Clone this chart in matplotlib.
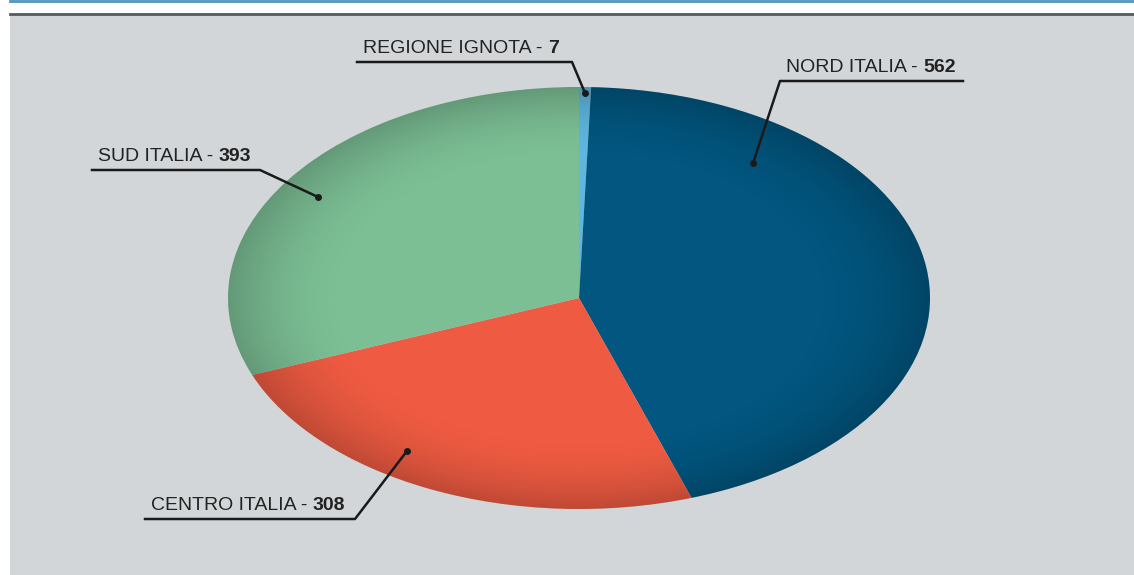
import matplotlib.pyplot as plt
from matplotlib.patches import Circle, Rectangle
import numpy as np

# data (clockwise from the top)
regions = ["REGIONE IGNOTA", "NORD ITALIA", "CENTRO ITALIA", "SUD ITALIA"]
counts = [7, 562, 308, 393]
colors = ["#5fb6df", "#02567f", "#ef5b42", "#7cbf95"]

W, H = 1134, 575
fig = plt.figure(figsize=(W / 100, H / 100), dpi=100)
fig.patch.set_facecolor("white")

# background panel, pixel coordinates
bg = fig.add_axes([0, 0, 1, 1], zorder=0)
bg.set_xlim(0, W)
bg.set_ylim(H, 0)
bg.axis("off")
bg.add_patch(Rectangle((10, 14), W - 10, H - 14, color="#d3d6d8", lw=0))
bg.plot([10, W], [14, 14], color="#5a5a5a", lw=2)
bg.plot([10, W], [0.8, 0.8], color="#4f95bd", lw=2)

# ellipse box of the pie in pixels
cx, cy, rx, ry = 579, 298, 351, 211
ax = fig.add_axes([(cx - rx) / W, (H - cy - ry) / H, 2 * rx / W, 2 * ry / H], zorder=1)
wedges, _ = ax.pie(counts, colors=colors, startangle=90, counterclock=False,
                   radius=1, wedgeprops=dict(linewidth=0))
ax.set_aspect("auto")
ax.set_xlim(-1, 1)
ax.set_ylim(-1, 1)
ax.axis("off")

# soft darkening towards the rim
g = np.linspace(-1, 1, 400)
gx, gy = np.meshgrid(g, g)
r = np.sqrt(gx ** 2 + gy ** 2)
shade = np.zeros((400, 400, 4))
shade[..., 3] = np.clip((r - 0.65) / 0.35, 0, 1) ** 2 * 0.2
im = ax.imshow(shade, extent=(-1, 1, -1, 1), origin="lower", zorder=3, aspect="auto")
im.set_clip_path(Circle((0, 0), 1, transform=ax.transData))

# labels with leader lines
lab = fig.add_axes([0, 0, 1, 1], zorder=2)
lab.set_xlim(0, W)
lab.set_ylim(H, 0)
lab.axis("off")

# (dot in pie units, elbow px, underline end px)
leaders = [
    ((0.017, 0.972), (572, 62), 357),
    ((0.496, 0.640), (780, 81), 963),
    ((-0.490, -0.725), (355, 519), 145),
    ((-0.744, 0.479), (260, 170), 92),
]

for name, n, (dot, elbow, end) in zip(regions, counts, leaders):
    dx, dy = cx + rx * dot[0], cy - ry * dot[1]
    lab.plot([dx, elbow[0], end], [dy, elbow[1], elbow[1]], color="#1a1a1a", lw=1.8)
    lab.plot(dx, dy, "o", color="#1a1a1a", ms=4)
    tx = min(elbow[0], end) + 6
    t = lab.text(tx, elbow[1] - 5, name + " - ", fontsize=14, family="Liberation Sans",
                 color="#222222", va="bottom", ha="left")
    lab.annotate(str(n), xy=(1, 0), xycoords=t, fontsize=14, family="Liberation Sans",
                 fontweight="bold", color="#222222", va="bottom", ha="left")

fig.savefig("out.png", dpi=100)
